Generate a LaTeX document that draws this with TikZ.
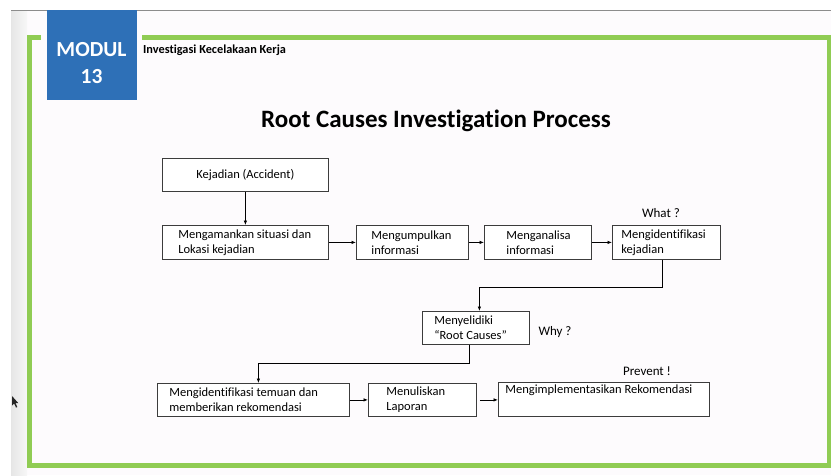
\documentclass[tikz,border=0pt]{standalone}
\usepackage{fontspec}
\setmainfont{Carlito}[Ligatures={NoCommon}]
\usetikzlibrary{arrows.meta,calc}
\definecolor{slidebg}{RGB}{253,251,253}
\definecolor{framegreen}{RGB}{144,204,84}
\definecolor{modblue}{RGB}{46,112,183}
\definecolor{boxline}{RGB}{60,60,60}
\tikzset{
  box/.style={draw=boxline, line width=0.8pt, fill=white, anchor=north west,
    align=flush left, inner ysep=0pt, font=\fontsize{12.5}{15}\selectfont, text=black},
  flow/.style={draw=black, line width=0.7pt, -{Latex[length=4.5pt,width=3.5pt]}},
  note/.style={font=\fontsize{13}{15}\selectfont, text=black, inner sep=0pt},
}
% box at top-left corner (x,y) with width w, height h and text inset s
\newcommand{\flowbox}[7]{%
  \node[box, minimum width=#4pt, minimum height=#5pt, inner xsep=#6pt,
        text width={#4pt-2*#6pt}] (#1) at (#2,#3) {#7};}
\begin{document}
\begin{tikzpicture}[x=1pt,y=-1pt]
\useasboundingbox (0,0) rectangle (831,475);
% page and slide background
\fill[white] (0,0) rectangle (831,475);
\fill[slidebg] (11,10) rectangle (831,475);
\shade[left color=black!10, right color=black!3] (11,10) rectangle (27,475);
\draw[black!45, line width=0.8pt] (11,10) -- (831,10);
% green frame
\draw[framegreen, line width=5pt] (142,37.5) -- (829,37.5) -- (829,465) -- (29.5,465) -- (29.5,37.5) -- (41,37.5);
% module badge
\fill[modblue] (46.5,10) rectangle (137,100);
\node[text=white, font=\fontsize{21.5}{24}\selectfont\bfseries, inner sep=0pt] (modul) at (91.5,50) {MODUL};
\node[text=white, font=\fontsize{21.5}{24}\selectfont\bfseries, inner sep=0pt] (modnum) at (91.5,77) {13};
\node[anchor=west, font=\fontsize{12.3}{14}\selectfont\bfseries, inner sep=0pt] (subject) at (143,50) {Investigasi Kecelakaan Kerja};
% title
\node[font=\fontsize{25}{30}\selectfont\bfseries, inner sep=0pt] (title) at (436,121) {Root Causes Investigation Process};
% process boxes
\node[box, minimum width=166pt, minimum height=33pt, align=flush center, inner xsep=2pt, text width=162pt] (accident) at (162,158) {Kejadian (Accident)};
\flowbox{secure}{162}{225}{166}{34}{16}{Mengamankan situasi dan\\Lokasi kejadian}
\flowbox{collect}{356}{225}{112}{34}{15}{Mengumpulkan\\informasi}
\flowbox{analyse}{484}{225}{107}{34}{22}{Menganalisa\\informasi}
\flowbox{identify}{612}{225}{108}{34}{9}{Mengidentifikasi\\kejadian}
\flowbox{rootcause}{422}{311}{107}{33}{12}{Menyelidiki\\``Root Causes''}
\flowbox{findings}{157}{383}{192}{33}{12}{Mengidentifikasi temuan dan\\memberikan rekomendasi}
\flowbox{report}{368}{383}{108}{33}{18}{Menuliskan\\Laporan}
\flowbox{implement}{498}{382}{211}{34}{7}{Mengimplementasikan Rekomendasi\\\strut}
% side notes
\node[note] (what) at (661,213) {What ?};
\node[note] (why) at (555,332) {Why ?};
\node[note] (prevent) at (647,371) {Prevent !};
% connectors
\draw[flow] (accident.south) -- (secure.north);
\draw[flow] (secure.east) -- (collect.west);
\draw[flow] (collect.east) -- (analyse.west);
\draw[flow] (analyse.east) -- (identify.west);
\draw[flow] ([xshift=-4pt]identify.south) -- ++(0,28) -| ([xshift=3.5pt]rootcause.north);
\draw[flow] ([xshift=-6.5pt]rootcause.south) -- ++(0,19) -| ([xshift=5pt]findings.north);
\draw[flow] (findings.east) -- (report.west);
\draw[flow] ([xshift=3pt]report.east) -- (implement.west |- report.east);
% mouse pointer
\fill[black!85] (12,396) -- (12,405.5) -- (14.2,403.6) -- (16,407.6) -- (17.3,407) -- (15.6,403.2) -- (18.4,403.2) -- cycle;
\end{tikzpicture}
\end{document}
